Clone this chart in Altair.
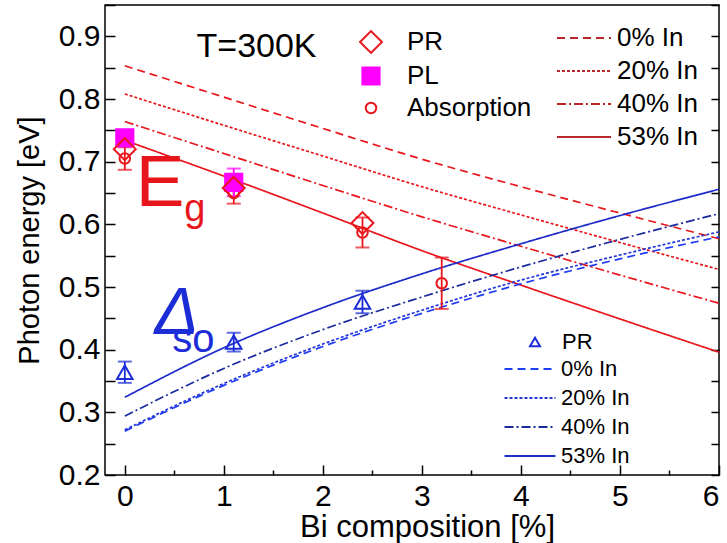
import altair as alt
import pandas as pd

FONT = "Liberation Sans"
RED = "#e8161c"
DARK_RED = "#b8282a"
MAGENTA = "#ff00ff"
BLUE = "#1c2cd6"

# Bi composition grid for the model curves (%)
bi_grid = [0, 1, 2, 3, 4, 5, 6]
in_labels = ["0% In", "20% In", "40% In", "53% In"]

# Band gap Eg model curves (eV)
eg_0 = [0.853, 0.803, 0.753, 0.704, 0.660, 0.618, 0.577]
eg_20 = [0.808, 0.758, 0.709, 0.660, 0.615, 0.571, 0.528]
eg_40 = [0.764, 0.713, 0.662, 0.612, 0.565, 0.519, 0.474]
eg_53 = [0.734, 0.677, 0.618, 0.558, 0.503, 0.449, 0.396]

# Spin-orbit splitting model curves (eV)
so_0 = [0.270, 0.343, 0.405, 0.458, 0.505, 0.545, 0.580]
so_20 = [0.272, 0.346, 0.409, 0.463, 0.511, 0.551, 0.588]
so_40 = [0.294, 0.370, 0.432, 0.484, 0.532, 0.576, 0.617]
so_53 = [0.324, 0.403, 0.467, 0.521, 0.569, 0.614, 0.656]

# Measured Eg
pr_bi = [0, 1.1, 2.4]
pr_eg = [0.720, 0.658, 0.602]
pl_bi = [0, 1.1]
pl_eg = [0.738, 0.667]
pl_err = [0.006, 0.022]
abs_bi = [0, 1.1, 2.4, 3.2]
abs_eg = [0.705, 0.650, 0.587, 0.506]
abs_err = [0.018, 0.017, 0.024, 0.041]

# Measured spin-orbit splitting (PR)
so_pr_bi = [0, 1.1, 2.4]
so_pr = [0.364, 0.412, 0.476]
so_pr_err = [0.017, 0.015, 0.018]

# Axis tick positions
y_labels = [0.2, 0.3, 0.4, 0.5, 0.6, 0.7, 0.8, 0.9]
y_ticks = [0.2, 0.25, 0.3, 0.35, 0.4, 0.45, 0.5, 0.55, 0.6, 0.65, 0.7, 0.75, 0.8, 0.85, 0.9, 0.95]
x_major = [0, 1, 2, 3, 4, 5, 6]
x_minor = [0.5, 1.5, 2.5, 3.5, 4.5, 5.5]

W, H = 614, 470
xs = alt.Scale(domain=[-0.2, 6], nice=False, zero=False)
ys = alt.Scale(domain=[0.2, 0.95], nice=False, zero=False)

# legend line sample: a long horizontal stroke inside a small layout box
LINE_SYMBOL = "M-3,0H3"


def X(field="x", axis=None):
    return alt.X(f"{field}:Q", scale=xs, axis=axis)


def Y(field="y", axis=None):
    return alt.Y(f"{field}:Q", scale=ys, axis=axis)


def curves(series):
    rows = []
    for name, vals in zip(in_labels, series):
        for b, v in zip(bi_grid, vals):
            rows.append({"x": b, "y": v, "In": name})
    return pd.DataFrame(rows)


eg_df = curves([eg_0, eg_20, eg_40, eg_53])
so_df = curves([so_0, so_20, so_40, so_53])

dash_scale = alt.Scale(domain=in_labels, range=[[8, 5], [3, 2], [9, 3, 2, 3], [1, 0]])

eg_lines = alt.Chart(eg_df).mark_line(color=RED, strokeWidth=1.7, interpolate="monotone").encode(
    x=X(), y=Y(),
    strokeDash=alt.StrokeDash("In:N", scale=dash_scale, legend=alt.Legend(
        title=None, orient="none", legendX=466, legendY=20, symbolType=LINE_SYMBOL,
        symbolSize=324, symbolStrokeWidth=2, symbolStrokeColor=DARK_RED,
        labelFont=FONT, labelFontSize=26, labelColor="black", labelOffset=20,
        rowPadding=7, padding=0)),
)

so_colors = alt.Scale(domain=in_labels, range=["#1f3cf5", "#2236d8", "#1b2a9c", "#1e2bc8"])
so_leg = dict(title=None, orient="none", legendX=414, legendY=353, symbolType=LINE_SYMBOL,
              symbolSize=289, symbolStrokeWidth=2,
              labelFont=FONT, labelFontSize=22, labelColor="black", labelOffset=20,
              rowPadding=7, padding=0)
so_lines = alt.Chart(so_df).mark_line(strokeWidth=1.7, interpolate="monotone").encode(
    x=X(), y=Y(),
    color=alt.Color("In:N", scale=so_colors, legend=alt.Legend(**so_leg)),
    strokeDash=alt.StrokeDash("In:N", scale=dash_scale, legend=alt.Legend(**so_leg)),
)


# Error bars
def err_frame(bx, vals, errs):
    return pd.DataFrame({"x": bx, "lo": [v - e for v, e in zip(vals, errs)],
                         "hi": [v + e for v, e in zip(vals, errs)]})


def err_layers(df, color):
    rule = alt.Chart(df).mark_rule(color=color, strokeWidth=1.8).encode(
        x=X(), y=Y("lo"), y2="hi")
    caps = pd.concat([df[["x", "lo"]].rename(columns={"lo": "y"}),
                      df[["x", "hi"]].rename(columns={"hi": "y"})])
    tick = alt.Chart(caps).mark_tick(color=color, orient="horizontal", size=14,
                                      thickness=2).encode(x=X(), y=Y())
    return [rule, tick]


abs_err_df = err_frame(abs_bi, abs_eg, abs_err)
pl_err_df = err_frame(pl_bi, pl_eg, pl_err)
so_err_df = err_frame(so_pr_bi, so_pr, so_pr_err)

# Eg markers
eg_pts = pd.DataFrame(
    [{"x": b, "y": v, "method": "Absorption"} for b, v in zip(abs_bi, abs_eg)]
    + [{"x": b, "y": v, "method": "PL"} for b, v in zip(pl_bi, pl_eg)]
    + [{"x": b, "y": v, "method": "PR"} for b, v in zip(pr_bi, pr_eg)]
)
methods = ["PR", "PL", "Absorption"]
eg_legend = alt.Legend(title=None, orient="none", legendX=253, legendY=24,
                       labelFont=FONT, labelFontSize=26, labelColor="black",
                       labelOffset=23, rowPadding=6, padding=0, symbolStrokeWidth=2)
eg_markers = alt.Chart(eg_pts).mark_point(filled=False, strokeWidth=2, opacity=1).encode(
    x=X(), y=Y(),
    shape=alt.Shape("method:N", scale=alt.Scale(domain=methods, range=["diamond", "square", "circle"]), legend=eg_legend),
    color=alt.Color("method:N", scale=alt.Scale(domain=methods, range=[RED, MAGENTA, RED]), legend=eg_legend),
    fill=alt.Fill("method:N", scale=alt.Scale(domain=methods, range=["rgba(255,255,255,0)", MAGENTA, "rgba(255,255,255,0)"]), legend=eg_legend),
    size=alt.Size("method:N", scale=alt.Scale(domain=methods, range=[480, 110, 260]), legend=eg_legend),
)

so_pts = pd.DataFrame({"x": so_pr_bi, "y": so_pr, "method": ["PR"] * len(so_pr)})
so_legend = alt.Legend(title=None, orient="none", legendX=419, legendY=326,
                       labelFont=FONT, labelFontSize=22, labelColor="black",
                       labelOffset=16, padding=0, symbolStrokeWidth=2)
so_markers = alt.Chart(so_pts).mark_point(filled=False, strokeWidth=2, size=240, opacity=1).encode(
    x=X(), y=Y(),
    shape=alt.Shape("method:N", scale=alt.Scale(domain=["PR"], range=["triangle-up"]), legend=so_legend),
    color=alt.Color("method:N", scale=alt.Scale(domain=["PR"], range=[BLUE]), legend=so_legend),
)


# Annotations
def label(x, y, text, size, color, style="normal", align="left"):
    df = pd.DataFrame({"x": [x], "y": [y], "t": [text]})
    return alt.Chart(df).mark_text(font=FONT, fontSize=size, color=color, fontStyle=style,
                                   align=align, baseline="alphabetic").encode(
        x=X(), y=Y(), text="t:N")


notes = [
    label(1.33, 0.867, "T=300K", 34, "black", align="center"),
    label(0.11, 0.630, "E", 73, RED),
    label(0.60, 0.606, "g", 38, RED),
    label(0.30, 0.425, "Δ", 66, BLUE, style="italic"),
    label(0.48, 0.397, "so", 40, BLUE),
]

# Axes: labelled outer axes plus inward-pointing tick axes on each side
frame = pd.DataFrame({"x": [-0.2, 6], "y": [0.2, 0.95]})


def axis_layer(xaxis=None, yaxis=None):
    return alt.Chart(frame).mark_point(opacity=0).encode(x=X(axis=xaxis), y=Y(axis=yaxis))


common = dict(grid=False, domain=False, title=None)
axes = [
    axis_layer(yaxis=alt.Axis(orient="left", values=y_labels, format=".1f", ticks=False,
                              domain=False, grid=False, labelFont=FONT, labelFontSize=30,
                              labelColor="black", labelPadding=5,
                              title="Photon energy [eV]", titleFont=FONT, titleFontSize=29,
                              titleFontWeight="normal", titleColor="black", titlePadding=14)),
    axis_layer(yaxis=alt.Axis(orient="right", offset=-W, values=y_ticks, labels=False,
                              tickSize=10, tickWidth=1.5, tickColor="black", **common)),
    axis_layer(yaxis=alt.Axis(orient="left", offset=-W, values=y_ticks, labels=False,
                              tickSize=8, tickWidth=1.5, tickColor="black", **common)),
    axis_layer(xaxis=alt.Axis(orient="bottom", values=x_major, format="d", ticks=False,
                              domain=False, grid=False, labelFont=FONT, labelFontSize=30,
                              labelColor="black", labelPadding=6,
                              title="Bi composition [%]", titleFont=FONT, titleFontSize=31,
                              titleFontWeight="normal", titleColor="black", titlePadding=1,
                              titleX=322, titleAlign="center")),
    axis_layer(xaxis=alt.Axis(orient="top", offset=-H, values=x_major, labels=False,
                              tickSize=10, tickWidth=1.5, tickColor="black", **common)),
    axis_layer(xaxis=alt.Axis(orient="top", offset=-H, values=x_minor, labels=False,
                              tickSize=5, tickWidth=1.5, tickColor="black", **common)),
]

layers = (axes + [eg_lines, so_lines]
          + err_layers(abs_err_df, RED) + err_layers(pl_err_df, MAGENTA)
          + err_layers(so_err_df, BLUE)
          + [eg_markers, so_markers] + notes)

chart = alt.layer(*layers).resolve_scale(
    color="independent", shape="independent", fill="independent",
    size="independent", strokeDash="independent",
).resolve_axis(x="independent", y="independent").properties(
    width=W, height=H,
    background="white",
    autosize=alt.AutoSizeParams(type="none"),
    padding={"left": 105, "top": 5, "right": 8, "bottom": 68},
).configure_view(stroke="black", strokeWidth=1.5).configure_axis(grid=False)

chart.save("out.html", embed_options={"renderer": "svg", "actions": False})
